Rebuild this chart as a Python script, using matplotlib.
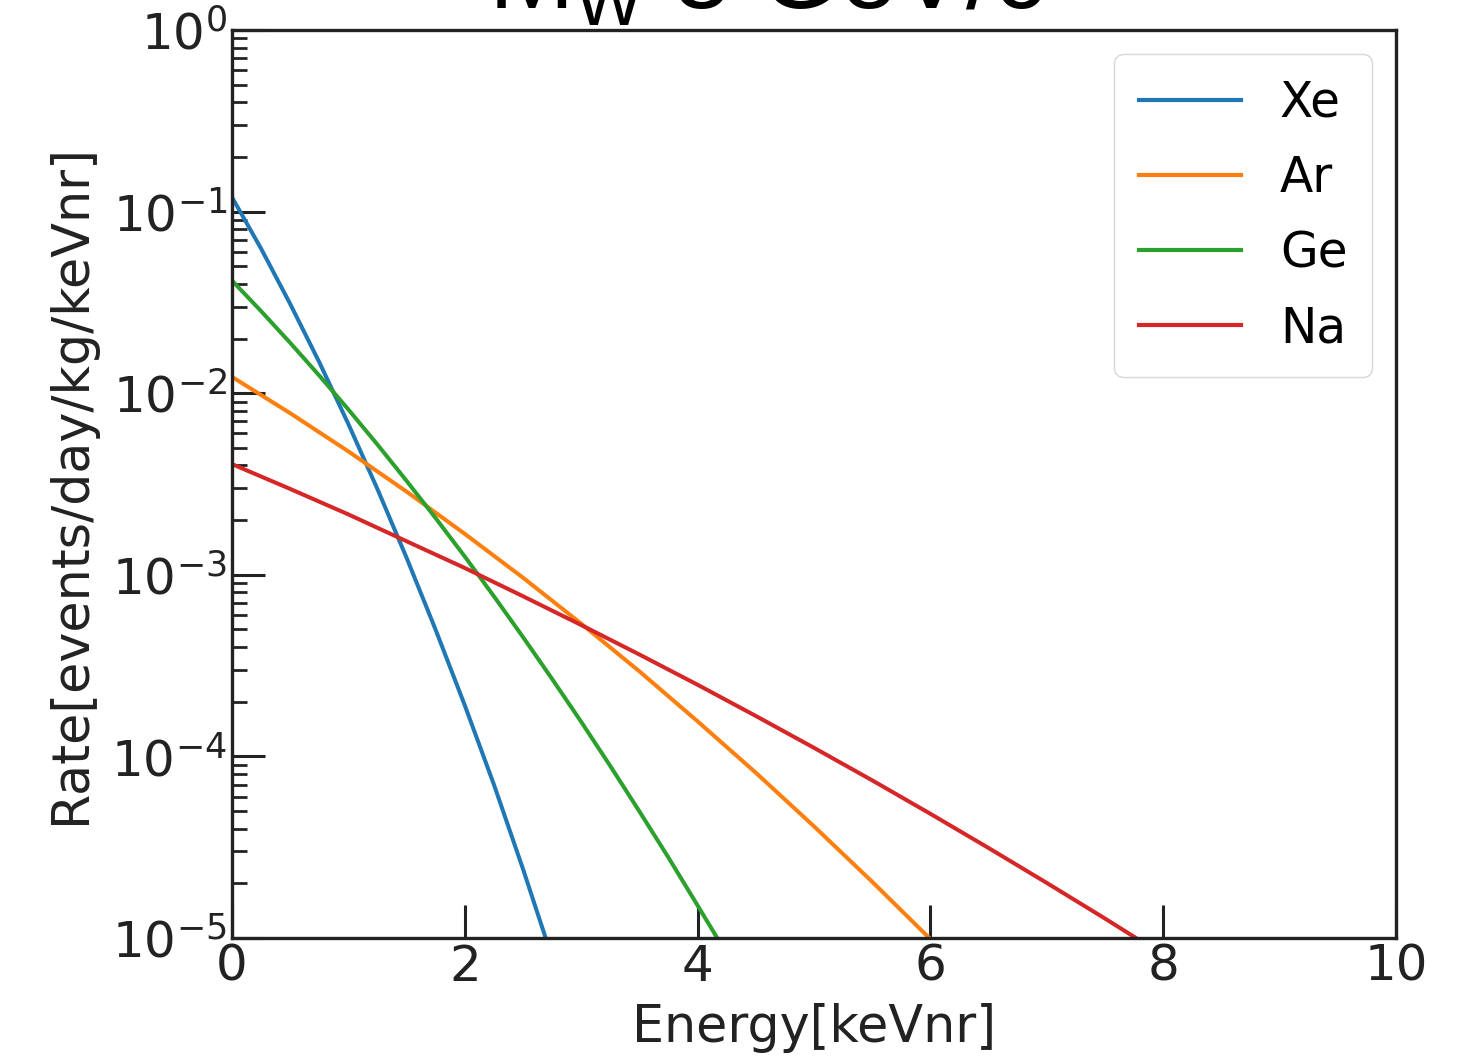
import matplotlib
matplotlib.use("Agg")
import matplotlib.pyplot as plt
import numpy as np

plt.rcParams['mathtext.fontset'] = 'dejavusans'
plt.rcParams['mathtext.rm'] = 'Liberation Sans'
plt.rcParams['mathtext.it'] = 'Liberation Sans:italic'

# Data
energy_xe = [0.0, 0.25, 0.5, 0.75, 1.0, 1.25, 1.5, 1.75, 2.0, 2.25, 2.5, 2.75]
rate_xe = [0.120, 0.0625, 0.0310, 0.0148, 0.00676, 0.00296, 0.00124,
           4.97e-4, 1.91e-4, 7.0e-5, 2.4e-5, 7.8e-6]

energy_ge = [0.0, 0.25, 0.5, 0.75, 1.0, 1.25, 1.5, 1.75, 2.0, 2.25, 2.5,
             2.75, 3.0, 3.25, 3.5, 3.75, 4.0, 4.25]
rate_ge = [0.0417, 0.0283, 0.01894, 0.0125, 0.00813, 0.00521, 0.00329,
           0.00205, 0.00126, 7.62e-4, 4.54e-4, 2.67e-4, 1.55e-4, 8.85e-5,
           4.98e-5, 2.77e-5, 1.51e-5, 8.2e-6]

energy_ar = [0.0, 0.5, 1.0, 1.5, 2.0, 2.5, 3.0, 3.5, 4.0, 4.5, 5.0, 5.5, 6.0, 6.25]
rate_ar = [0.0123, 0.00776, 0.00478, 0.00287, 0.00168, 9.64e-4, 5.38e-4,
           2.94e-4, 1.56e-4, 8.13e-5, 4.12e-5, 2.04e-5, 9.86e-6, 6.8e-6]

energy_na = [0.0, 0.5, 1.0, 1.5, 2.0, 2.5, 3.0, 3.5, 4.0, 4.5, 5.0, 5.5,
             6.0, 6.5, 7.0, 7.5, 8.0]
rate_na = [0.00407, 0.00297, 0.00215, 0.00153, 0.00109, 7.62e-4, 5.29e-4,
           3.64e-4, 2.48e-4, 1.67e-4, 1.115e-4, 7.38e-5, 4.83e-5, 3.13e-5,
           2.01e-5, 1.28e-5, 8.05e-6]

labels = ["Xe", "Ar", "Ge", "Na"]
colors = ["#1f77b4", "#ff7f0e", "#2ca02c", "#d62728"]
xticks = [0, 2, 4, 6, 8, 10]

fig = plt.figure(figsize=(14.65, 10.63), dpi=100)
ax = fig.add_axes([232/1465, 125/1063, (1396-232)/1465, (938-30)/1063])

series = [(energy_xe, rate_xe), (energy_ar, rate_ar), (energy_ge, rate_ge), (energy_na, rate_na)]
for (e, r), lab, c in zip(series, labels, colors):
    ax.plot(e, r, color=c, lw=2.9, label=lab)

ax.set_yscale('log')
ax.set_xlim(0, 10)
ax.set_ylim(1e-5, 1)
ax.set_xticks(xticks)
ax.set_xticklabels([str(t) for t in xticks])
ax.minorticks_off()
ax.yaxis.set_minor_locator(matplotlib.ticker.LogLocator(base=10, subs=np.arange(2, 10), numticks=20))
ax.tick_params(axis='both', which='major', direction='in', length=24, width=2.2,
               labelsize=36, color='#222222', labelcolor='#222222')
ax.tick_params(axis='y', which='minor', direction='in', length=11, width=2.0, color='#222222')
for s in ax.spines.values():
    s.set_linewidth(2.4)
    s.set_color('#222222')

ax.set_xlabel("Energy[keVnr]", fontsize=36.5, color='#222222', labelpad=9)
ax.set_ylabel("Rate[events/day/kg/keVnr]", fontsize=36.5, color='#222222', labelpad=11)

leg = ax.legend(loc='upper right', fontsize=35, handlelength=2.1, labelspacing=0.56,
                handletextpad=0.8, borderpad=0.5)
for line in leg.get_lines():
    line.set_linewidth(3)

fig.text(488/1465, 1 - 9/1063, r"M$_\mathrm{W}$ 5 GeV/c$^\mathrm{2}$", fontsize=74,
         fontfamily='Liberation Sans', math_fontfamily='custom',
         ha='left', va='baseline', color='black')

fig.savefig("out.png", dpi=100)
